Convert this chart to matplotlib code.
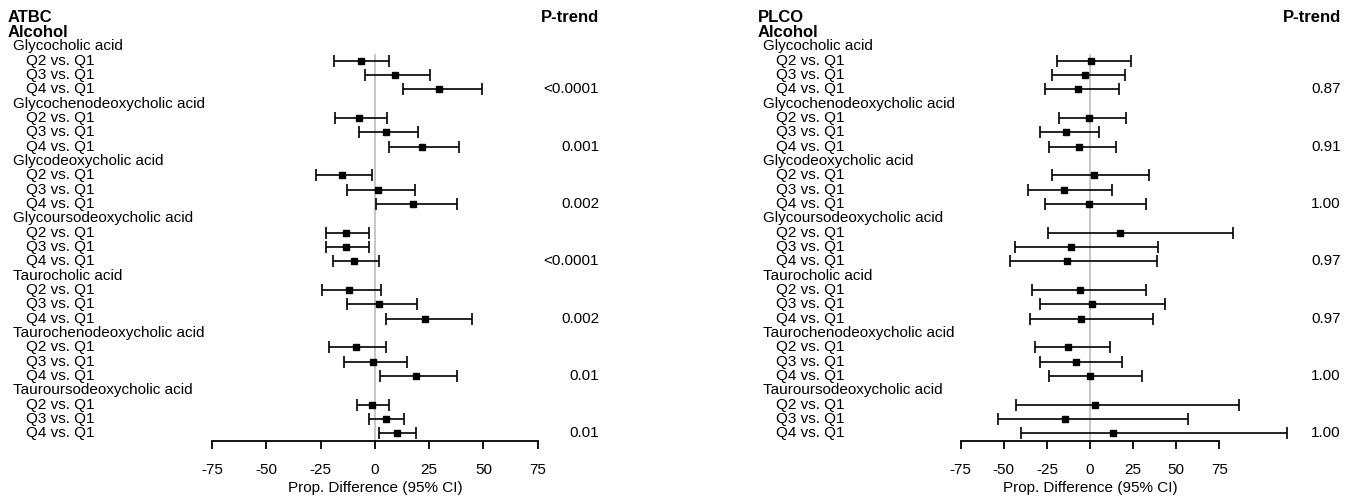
import matplotlib
matplotlib.use("Agg")
import matplotlib.pyplot as plt
import numpy as np

plt.rcParams['font.family'] = ['Liberation Sans', 'DejaVu Sans']

# -------- Data --------
acids = ["Glycocholic acid", "Glycochenodeoxycholic acid", "Glycodeoxycholic acid",
         "Glycoursodeoxycholic acid", "Taurocholic acid", "Taurochenodeoxycholic acid",
         "Tauroursodeoxycholic acid"]
contrasts = ["Q2 vs. Q1", "Q3 vs. Q1", "Q4 vs. Q1"]

# ATBC: estimate, lower, upper (per acid: Q2, Q3, Q4)
atbc_est = [-6.6, 9.5, 29.6, -7.2, 5.3, 21.5, -15.2, 1.5, 17.8, -13.3, -13.3, -9.5,
            -11.8, 2.0, 23.3, -8.9, -0.8, 18.9, -1.4, 5.1, 10.1]
atbc_lo = [-18.6, -4.5, 12.9, -18.3, -7.2, 6.6, -27.2, -12.9, 0.5, -22.7, -22.7, -19.5,
           -24.3, -12.6, 5.1, -20.9, -14.0, 2.6, -8.3, -2.5, 2.0]
atbc_hi = [6.7, 25.3, 49.2, 5.5, 19.9, 38.8, -1.2, 18.4, 37.9, -2.9, -2.6, 2.1,
           2.8, 19.5, 44.6, 5.1, 14.7, 37.7, 6.3, 13.2, 18.9]
atbc_p = ["<0.0001", "0.001", "0.002", "<0.0001", "0.002", "0.01", "0.01"]

# PLCO
plco_est = [0.4, -3.1, -7.0, -0.4, -13.7, -6.4, 2.1, -14.9, -0.8, 17.6, -11.2, -13.5,
            -6.0, 1.0, -5.4, -12.8, -8.3, -0.2, 3.1, -14.5, 13.5]
plco_lo = [-19.0, -22.2, -25.9, -17.8, -29.2, -24.0, -22.2, -35.7, -25.9, -24.5, -43.7, -46.2,
           -33.5, -29.2, -34.6, -31.9, -29.0, -23.6, -42.9, -53.5, -39.8]
plco_hi = [24.0, 20.5, 17.0, 20.9, 5.2, 14.9, 34.0, 12.6, 32.3, 82.8, 39.6, 39.0,
           32.5, 43.7, 36.7, 11.8, 18.4, 30.0, 86.2, 56.8, 114.3]
plco_p = ["0.87", "0.91", "1.00", "0.97", "0.97", "1.00", "1.00"]

xticks = [-75, -50, -25, 0, 25, 50, 75]

W, H = 1363, 498
FS = 11.0
FS_BOLD = 12.0


def draw_panel(fig, cohort, est, lo, hi, pvals, ax_left, ax_right, txt_x, p_x):
    ax = fig.add_axes([ax_left / W, 1 - 441 / H, (ax_right - ax_left) / W, 441 / H])
    ax.set_xlim(-75, 75)
    ax.set_ylim(29.54, -1.235)
    ax.patch.set_visible(False)

    def fy(row):
        # row -> figure fraction (rows 14.33 px apart, row 0 at 17.7 px)
        return 1 - (17.7 + 14.33 * row) / H

    fig.text(txt_x / W, fy(0), cohort, fontsize=FS_BOLD, fontweight='bold', va='center')
    fig.text(txt_x / W, fy(1), "Alcohol", fontsize=FS_BOLD, fontweight='bold', va='center')
    fig.text(p_x / W, fy(0), "P-trend", fontsize=FS_BOLD, fontweight='bold', va='center', ha='right')

    rows = []
    for i, acid in enumerate(acids):
        r0 = 2 + 4 * i
        fig.text((txt_x + 5) / W, fy(r0), acid, fontsize=FS, va='center')
        for j, c in enumerate(contrasts):
            fig.text((txt_x + 18) / W, fy(r0 + 1 + j), c, fontsize=FS, va='center')
            rows.append(r0 + 1 + j)
        fig.text(p_x / W, fy(r0 + 3), pvals[i], fontsize=FS, va='center', ha='right')

    rows = np.array(rows)
    est = np.array(est)
    xerr = [est - np.array(lo), np.array(hi) - est]
    ax.plot([0, 0], [2.6, 29.54], color='#bdbdbd', lw=1.2, zorder=1, clip_on=False)
    ax.errorbar(est, rows, xerr=xerr, fmt='s', color='black', ms=4.6, elinewidth=1.2,
                capsize=4, capthick=1.2, clip_on=False, zorder=3)

    for s in ['top', 'right', 'left']:
        ax.spines[s].set_visible(False)
    ax.spines['bottom'].set_linewidth(1.3)
    ax.set_yticks([])
    ax.set_xticks(xticks)
    ax.set_xticklabels([str(t) for t in xticks], fontsize=FS)
    ax.tick_params(axis='x', length=6, width=1.3, pad=10)
    ax.set_xlabel("Prop. Difference (95% CI)", fontsize=FS, labelpad=2.5)
    return ax


fig = plt.figure(figsize=(W / 100, H / 100), dpi=100)
draw_panel(fig, "ATBC", atbc_est, atbc_lo, atbc_hi, atbc_p, 212, 537.7, 8, 599)
draw_panel(fig, "PLCO", plco_est, plco_lo, plco_hi, plco_p, 960.7, 1219.3, 758, 1341)
fig.savefig("out.png", dpi=100)
